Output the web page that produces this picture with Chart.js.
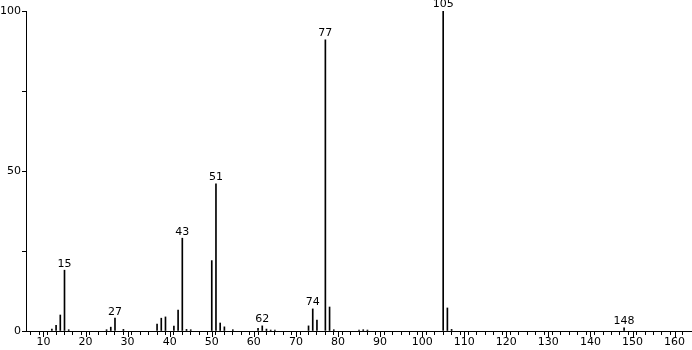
<!DOCTYPE html>
<html>
<head>
<meta charset="utf-8">
<script src="https://cdn.jsdelivr.net/npm/chart.js@4.4.1/dist/chart.umd.min.js"></script>
<style>
    html, body { margin: 0; padding: 0; background: #fff; }
    #wrap { width: 692px; height: 350px; }
</style>
</head>
<body>
<div id="wrap"><canvas id="spectrum"></canvas></div>
<script>
// Peak data (m/z vs relative intensity)
const mzValues = [12, 13, 14, 15, 16, 25, 26, 27, 29, 37, 38, 39, 41, 42, 43, 44, 45,
    50, 51, 52, 53, 55, 61, 62, 63, 64, 65, 73, 74, 75, 77, 78, 79, 85, 86, 87,
    105, 106, 107, 148];
const intensities = [0.6, 1.8, 5, 19, 0.4, 0.4, 1.2, 4, 0.5, 2.2, 4, 4.4, 1.5, 6.5, 29, 0.5, 0.4,
    22, 46, 2.5, 1.3, 0.4, 0.8, 1.6, 0.6, 0.3, 0.3, 1.6, 6.9, 3.4, 91, 7.5, 0.4, 0.3, 0.4, 0.3,
    100, 7.2, 0.5, 1];
const labeledPeaks = [15, 27, 43, 51, 62, 74, 77, 105, 148];
const xTickLabels = [10, 20, 30, 40, 50, 60, 70, 80, 90, 100, 110, 120, 130, 140, 150, 160];
const yTickLabels = [0, 50, 100];

const FONT = { family: 'DejaVu Sans', size: 11 };

// Draws the m/z labels over the annotated peaks and lengthens the labelled ticks
const peakLabels = {
    id: 'peakLabels',
    afterDraw(chart) {
        const ctx = chart.ctx;
        const x = chart.scales.x;
        const y = chart.scales.y;
        ctx.save();
        ctx.fillStyle = '#000';
        ctx.font = FONT.size + 'px ' + FONT.family;
        ctx.textAlign = 'center';
        ctx.textBaseline = 'bottom';
        labeledPeaks.forEach(mz => {
            const i = mzValues.indexOf(mz);
            if (i < 0) return;
            ctx.fillText(String(mz), x.getPixelForValue(mz), y.getPixelForValue(intensities[i]) - 1);
        });
        // longer ticks at the labelled m/z values
        ctx.strokeStyle = '#000';
        ctx.lineWidth = 1;
        ctx.beginPath();
        xTickLabels.forEach(v => {
            const px = Math.round(x.getPixelForValue(v)) + 0.5;
            ctx.moveTo(px, x.top);
            ctx.lineTo(px, x.top + 6);
        });
        ctx.stroke();
        ctx.restore();
    }
};

new Chart(document.getElementById('spectrum'), {
    type: 'bar',
    data: {
        datasets: [{
            data: mzValues.map((m, i) => ({ x: m, y: intensities[i] })),
            backgroundColor: '#000',
            borderWidth: 0,
            barThickness: 1
        }]
    },
    options: {
        responsive: true,
        maintainAspectRatio: false,
        animation: false,
        layout: { padding: { top: 11, right: 0, left: 0, bottom: 0 } },
        plugins: {
            legend: { display: false },
            tooltip: { enabled: false }
        },
        scales: {
            x: {
                type: 'linear',
                min: 5.85,
                max: 163.9,
                offset: false,
                afterFit(scale) { scale.height = 19; },
                border: { display: true, color: '#000', width: 1 },
                grid: { drawOnChartArea: false, drawTicks: true, tickLength: 4, color: '#000' },
                ticks: {
                    stepSize: 2,
                    autoSkip: false,
                    maxRotation: 0,
                    padding: 1,
                    color: '#000',
                    font: FONT,
                    callback: v => xTickLabels.includes(v) ? String(v) : ''
                }
            },
            y: {
                min: 0,
                max: 100,
                afterFit(scale) { scale.width = 26; },
                border: { display: true, color: '#000', width: 1 },
                grid: { drawOnChartArea: false, drawTicks: true, tickLength: 4, color: '#000' },
                ticks: {
                    stepSize: 25,
                    padding: 1,
                    color: '#000',
                    font: FONT,
                    callback: v => yTickLabels.includes(v) ? String(v) : ''
                }
            }
        }
    },
    plugins: [peakLabels]
});
</script>
</body>
</html>
